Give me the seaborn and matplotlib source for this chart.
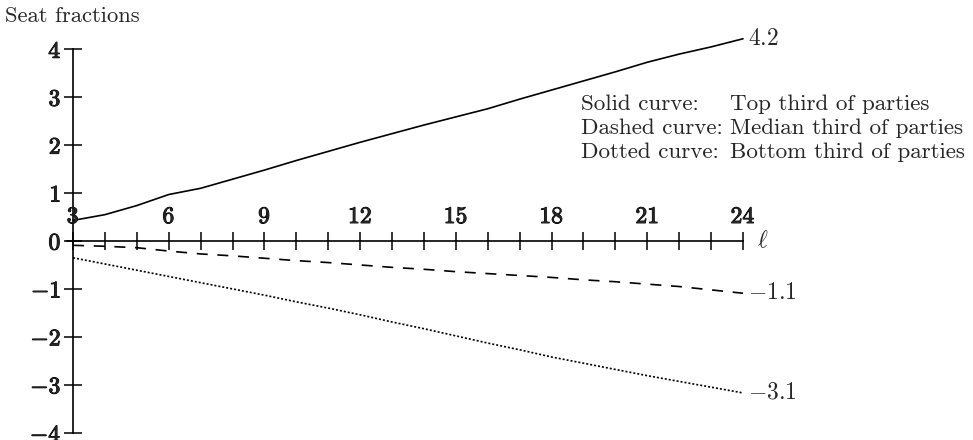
import matplotlib
matplotlib.use("Agg")
import matplotlib.pyplot as plt
import matplotlib.ticker as mticker
import matplotlib.patheffects as pe
import seaborn as sns
import pandas as pd

# ---- data ----
ell = list(range(3, 25))
top_third = [0.43, 0.55, 0.74, 0.97, 1.10, 1.29, 1.48, 1.68, 1.87, 2.06, 2.24,
             2.42, 2.59, 2.76, 2.96, 3.15, 3.34, 3.53, 3.73, 3.90, 4.05, 4.22]
median_third = [-0.09, -0.11, -0.14, -0.21, -0.27, -0.31, -0.36, -0.41, -0.45, -0.50, -0.55,
                -0.59, -0.64, -0.68, -0.72, -0.76, -0.81, -0.85, -0.90, -0.95, -1.02, -1.09]
bottom_third = [-0.35, -0.48, -0.61, -0.74, -0.87, -1.00, -1.13, -1.27, -1.40, -1.54, -1.69,
                -1.83, -1.98, -2.13, -2.27, -2.42, -2.55, -2.68, -2.81, -2.93, -3.05, -3.17]
series_names = ["Top third of parties", "Median third of parties", "Bottom third of parties"]
curve_names = ["Solid curve:", "Dashed curve:", "Dotted curve:"]
end_labels = ["4.2", "-1.1", "-3.1"]
x_tick_values = list(range(3, 25))
x_label_values = [3, 6, 9, 12, 15, 18, 21, 24]
y_tick_values = [-4, -3, -2, -1, 0, 1, 2, 3, 4]

df = pd.concat([
    pd.DataFrame({"ell": ell, "value": top_third, "series": series_names[0]}),
    pd.DataFrame({"ell": ell, "value": median_third, "series": series_names[1]}),
    pd.DataFrame({"ell": ell, "value": bottom_third, "series": series_names[2]}),
])

sns.set_theme(style="white")
plt.rcParams["mathtext.fontset"] = "cm"
plt.rcParams["font.family"] = ["cmr10", "DejaVu Serif"]
plt.rcParams["axes.unicode_minus"] = True

fig = plt.figure(figsize=(9.73, 4.40), dpi=100)
ax = fig.add_axes([66.7 / 973, (440 - 432.7) / 440, (743 - 66.7) / 973, (432.7 - 49.3) / 440])

lw = 1.2
sns.lineplot(data=df, x="ell", y="value", style="series", color="black",
             dashes={series_names[0]: "", series_names[1]: (6.6, 5.8), series_names[2]: (1.2, 1.2)},
             linewidth=lw, legend=False, ax=ax, sort=False)
for ln in ax.get_lines():
    ln.set_clip_on(False)

ax.set_xlim(2.8, 24)
ax.set_ylim(-4, 4)

for s in ["top", "right"]:
    ax.spines[s].set_visible(False)
ax.spines["left"].set_position(("data", 3))
ax.spines["bottom"].set_position(("data", 0))
ax.spines["left"].set_bounds(-4, 4)
ax.spines["bottom"].set_bounds(2.8, 24)
for s in ["left", "bottom"]:
    ax.spines[s].set_color("black")
    ax.spines[s].set_linewidth(1.2)

bold_fx = [pe.withStroke(linewidth=0.7, foreground="black")]

ax.set_xticks(x_tick_values)
ax.set_yticks(y_tick_values)
ax.yaxis.set_major_formatter(mticker.FuncFormatter(lambda v, p: r"$\mathbf{%d}$" % v))
ax.tick_params(axis="x", direction="inout", length=13, width=1.1, color="black",
               labelbottom=False, bottom=True)
ax.tick_params(axis="y", direction="inout", length=13, width=1.1, color="black",
               labelsize=17, pad=2, left=True)
for t in ax.get_yticklabels():
    t.set_verticalalignment("center_baseline")
    t.set_path_effects(bold_fx)
ax.set_xlabel("")
ax.set_ylabel("")
ax.grid(False)

for v in x_label_values:
    ax.annotate(r"$\mathbf{%d}$" % v, xy=(v, 0), xytext=(0, 24), textcoords="offset pixels",
                ha="center", va="center", fontsize=17, annotation_clip=False,
                path_effects=bold_fx)

ax.annotate(r"$\ell$", xy=(24, 0), xytext=(20, 0), textcoords="offset pixels",
            ha="center", va="center", fontsize=17, annotation_clip=False)

ends = [top_third[-1], median_third[-1], bottom_third[-1]]
for lab, yv in zip(end_labels, ends):
    ax.annotate(r"$%s$" % lab, xy=(24, yv), xytext=(5, 0), textcoords="offset pixels",
                ha="left", va="center", fontsize=17, annotation_clip=False)

fig.text(5 / 973, 1 - 16 / 440, "Seat fractions", ha="left", va="center", fontsize=16.3)

for i, (cn, sn) in enumerate(zip(curve_names, series_names)):
    yy = 1 - (104 + 24 * i) / 440
    fig.text(581 / 973, yy, cn, ha="left", va="center", fontsize=16.6)
    fig.text(730 / 973, yy, sn, ha="left", va="center", fontsize=16.6)

fig.savefig("out.png", dpi=100)
